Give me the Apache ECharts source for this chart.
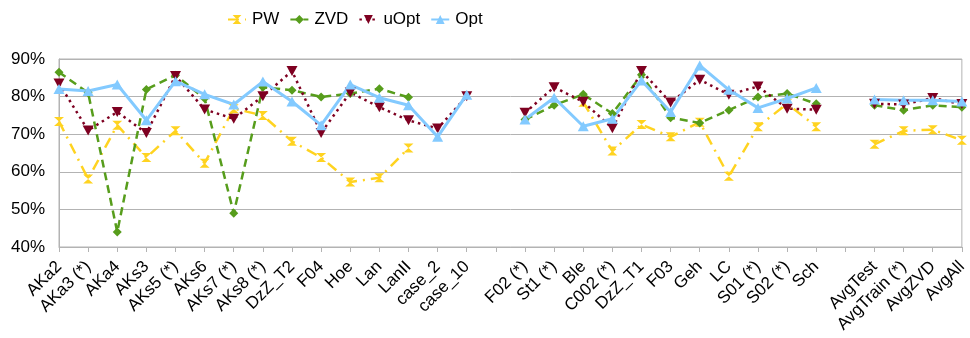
<!DOCTYPE html>
<html>
<head>
<meta charset="utf-8">
<script src="https://cdn.jsdelivr.net/npm/echarts@6/dist/echarts.min.js"></script>
<style>
html,body{margin:0;padding:0;background:#fff;}
#chart{width:970px;height:338px;}
</style>
</head>
<body>
<div id="chart"></div>
<script>
const categories = ['AKa2','AKa3 (*)','AKa4','AKs3','AKs5 (*)','AKs6','AKs7 (*)','AKs8 (*)','DzZ_T2','F04','Hoe','Lan','LanII','case_2','case_10','',
  'F02 (*)','St1 (*)','Ble','C002 (*)','DzZ_T1','F03','Geh','LC','S01 (*)','S02 (*)','Sch','',
  'AvgTest','AvgTrain (*)','AvgZVD','AvgAll'];
const yTicks = [40, 50, 60, 70, 80, 90];
const PW = [73.4,58.1,72.4,63.8,70.9,62.3,76.8,75.0,68.1,63.8,57.3,58.4,66.3,null,null,null,
  null,null,78.5,65.5,72.6,69.3,73.2,58.8,72.0,78.1,72.0,null,
  67.3,70.9,71.2,68.4];
const ZVD = [86.5,81.0,44.0,81.9,85.7,79.5,49.0,82.5,81.7,79.9,80.8,82.1,79.8,null,null,null,
  73.9,77.7,80.6,75.5,85.8,74.4,73.0,76.4,79.9,80.8,78.1,null,
  77.7,76.4,77.7,77.2];
const uOpt = [83.5,71.0,75.9,70.3,85.5,76.6,74.1,80.1,86.8,70.3,81.1,77.2,73.7,71.5,80.1,null,
  75.7,82.5,78.6,71.6,86.8,78.4,84.5,80.5,82.7,76.8,76.5,null,
  78.1,77.9,79.6,78.0];
const Opt = [82.0,81.5,83.2,73.7,84.1,80.6,77.9,84.0,78.7,72.4,83.2,79.7,77.7,69.3,80.5,null,
  73.9,79.7,72.1,74.1,84.3,75.9,88.3,81.8,77.0,79.5,82.3,null,
  79.2,79.0,79.0,78.7];

const FONT = '"Liberation Sans", Arial, sans-serif';
const chart = echarts.init(document.getElementById('chart'), null, {renderer: 'canvas'});
const hourglass = 'path://M0,0 L10,0 L0,9 L10,9 Z';
const downTri = 'path://M0,0 L10,0 L5,9 Z';

chart.setOption({
  backgroundColor: '#ffffff',
  animation: false,
  legend: {
    left: 222, top: 6,
    itemWidth: 18, itemHeight: 11, itemGap: 10,
    textStyle: {fontFamily: FONT, fontSize: 17, color: '#000', padding: [0, 0, 0, 1]},
    data: ['PW', 'ZVD', 'uOpt', 'Opt']
  },
  grid: {left: 59, right: 8, top: 59, bottom: 91, show: true, borderColor: '#b3b3b3', borderWidth: 1},
  xAxis: {
    type: 'category', data: categories, boundaryGap: false,
    axisLine: {lineStyle: {color: '#b3b3b3'}},
    axisTick: {show: true, length: 5, lineStyle: {color: '#b3b3b3'}, interval: 0},
    axisLabel: {interval: 0, rotate: 45, fontFamily: FONT, fontSize: 17, color: '#000', margin: 17},
    splitLine: {show: false}
  },
  yAxis: {
    type: 'value', min: yTicks[0], max: yTicks[yTicks.length - 1], interval: 10,
    axisLine: {show: true, lineStyle: {color: '#b3b3b3'}},
    axisTick: {show: false},
    axisLabel: {fontFamily: FONT, fontSize: 17, color: '#000', margin: 14, formatter: v => v + '%'},
    splitLine: {lineStyle: {color: '#b3b3b3', width: 1}}
  },
  series: [
    {name: 'PW', type: 'line', data: PW, color: '#ffd320', symbol: hourglass, symbolSize: [10, 9],
      lineStyle: {width: 2.5, type: [11, 6, 2, 6], color: '#ffd320'}, itemStyle: {color: '#ffd320'}},
    {name: 'ZVD', type: 'line', data: ZVD, color: '#579d1c', symbol: 'diamond', symbolSize: 9,
      lineStyle: {width: 2.5, type: [8, 5], color: '#579d1c'}, itemStyle: {color: '#579d1c'}},
    {name: 'uOpt', type: 'line', data: uOpt, color: '#7e0021', symbol: downTri, symbolSize: [11, 10],
      lineStyle: {width: 2.5, type: [2.5, 4], color: '#7e0021'}, itemStyle: {color: '#7e0021'}},
    {name: 'Opt', type: 'line', data: Opt, color: '#83caff', symbol: 'triangle', symbolSize: [11, 10],
      lineStyle: {width: 3, type: 'solid', color: '#83caff'}, itemStyle: {color: '#83caff'}}
  ]
});
</script>
</body>
</html>
